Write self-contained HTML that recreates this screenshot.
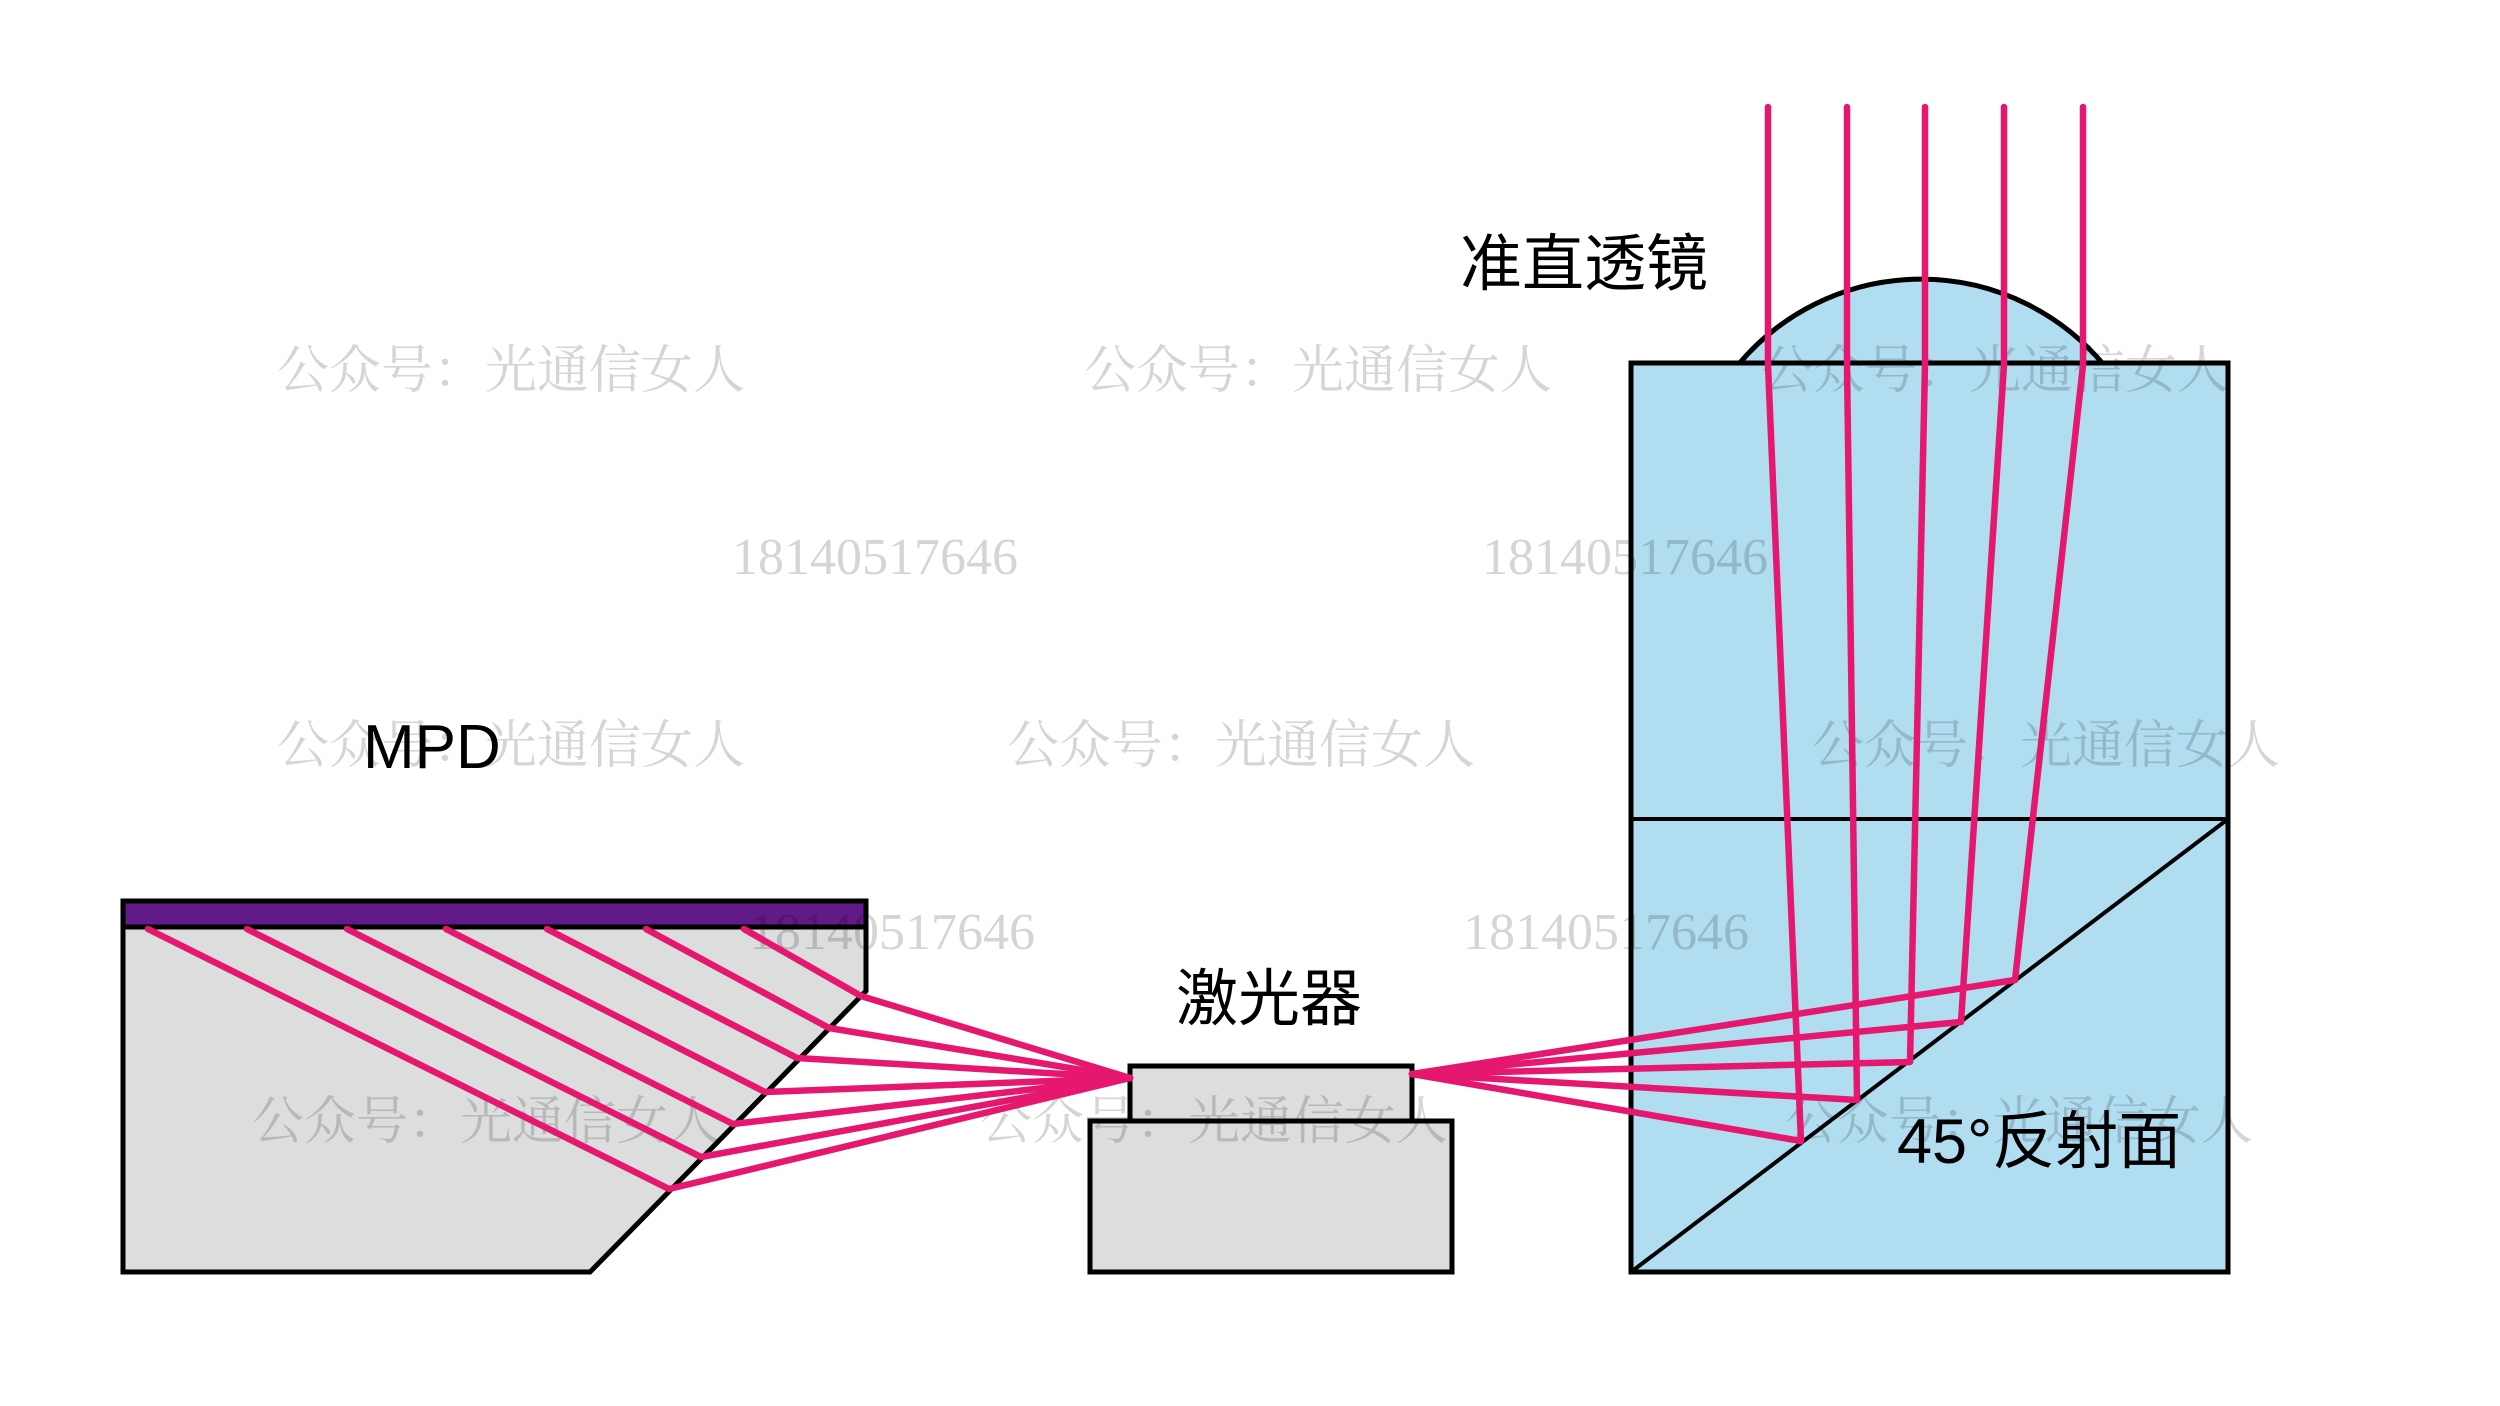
<!DOCTYPE html>
<html><head><meta charset="utf-8"><style>
html,body{margin:0;padding:0;background:#fff;}
svg{display:block;}
</style></head><body>
<svg width="2500" height="1406" viewBox="0 0 2500 1406" xmlns="http://www.w3.org/2000/svg">
<rect width="2500" height="1406" fill="#fff"/>
<!-- MPD -->
<polygon points="123,925 866,925 866,991 590,1272 123,1272" fill="#dcdddd" stroke="#000" stroke-width="5"/>
<rect x="123" y="901" width="743" height="26" fill="#621a87" stroke="#000" stroke-width="5"/>
<!-- laser -->
<rect x="1130" y="1066" width="282" height="55" fill="#dcdddd" stroke="#000" stroke-width="5"/>
<rect x="1090" y="1121" width="362" height="151" fill="#dcdddd" stroke="#000" stroke-width="5"/>
<!-- lens block -->
<path d="M1738,365 A238,238 0 0 1 2104,365 Z" fill="#b0ddf0" stroke="#000" stroke-width="5"/>
<rect x="1631" y="363" width="597" height="909" fill="#b0ddf0" stroke="#000" stroke-width="5"/>
<line x1="1631" y1="819" x2="2228" y2="819" stroke="#000" stroke-width="4"/>
<line x1="1631" y1="1272" x2="2228" y2="819" stroke="#000" stroke-width="4"/>
<!-- watermarks -->
<g font-family="'Liberation Serif','Noto Serif CJK SC',serif" fill="#000" opacity="0.16" font-size="52">
<text x="277" y="388">公众号：光通信女人</text>
<text x="1084" y="388">公众号：光通信女人</text>
<text x="1761" y="388">公众号：光通信女人</text>
<text x="277" y="763">公众号：光通信女人</text>
<text x="1007" y="763">公众号：光通信女人</text>
<text x="1812" y="763">公众号：光通信女人</text>
<text x="252" y="1139">公众号：光通信女人</text>
<text x="980" y="1139">公众号：光通信女人</text>
<text x="1785" y="1139">公众号：光通信女人</text>
<text x="732" y="574">18140517646</text>
<text x="1482" y="574">18140517646</text>
<text x="749" y="949">18140517646</text>
<text x="1463" y="949">18140517646</text>
</g>
<!-- rays -->
<g stroke="#e5176f" stroke-width="6.5" fill="none" stroke-linejoin="round" stroke-linecap="round">
<polyline points="148,929 669,1189 1130,1078"/>
<polyline points="247,929 701,1157 1130,1078"/>
<polyline points="347,929 733,1124 1130,1078"/>
<polyline points="446,929 765,1092 1130,1078"/>
<polyline points="547,929 797,1058 1130,1078"/>
<polyline points="646,929 829,1028 1130,1078"/>
<polyline points="744,929 861,996 1130,1078"/>
<polyline points="1768,107 1768,365 1801,1141 1412,1074"/>
<polyline points="1847,107 1847,365 1857,1100 1412,1074"/>
<polyline points="1925,107 1925,365 1910,1062 1412,1074"/>
<polyline points="2004,107 2004,365 1961,1022 1412,1074"/>
<polyline points="2083,107 2083,365 2015,980 1412,1074"/>
</g>
<!-- labels -->
<g font-family="'Liberation Sans','Noto Sans CJK SC',sans-serif" fill="#000" font-size="62">
<text x="1460" y="285">准直透镜</text>
<text x="363" y="768">MPD</text>
<text x="1176" y="1020">激光器</text>
<text x="1897" y="1163" font-size="63">45°反射面</text>
</g>
</svg>
</body></html>
